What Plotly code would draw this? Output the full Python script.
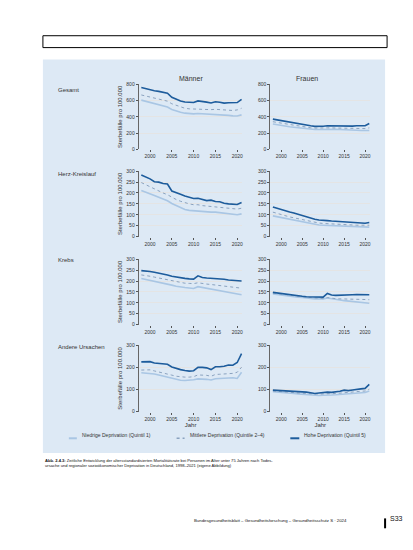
import plotly.graph_objects as go
from plotly.subplots import make_subplots

W, H = 413, 550

years = list(range(1998, 2022))

rows = ["Gesamt", "Herz-Kreislauf", "Krebs", "Andere Ursachen"]
cols = ["Männer", "Frauen"]
series_names = ["Niedrige Deprivation (Quintil 1)",
                "Mittlere Deprivation (Quintile 2–4)",
                "Hohe Deprivation (Quintil 5)"]

# Gesamt
gesamt_m_niedrig = [605, 590, 575, 560, 548, 535, 520, 490, 470, 455, 445, 440, 436, 440, 438, 434, 428, 430, 425, 420, 418, 412, 410, 424]
gesamt_m_mittel = [668, 655, 640, 628, 618, 605, 592, 560, 540, 520, 505, 498, 495, 500, 498, 495, 488, 492, 488, 480, 483, 478, 485, 505]
gesamt_m_hoch = [760, 745, 730, 720, 712, 700, 690, 640, 615, 595, 582, 578, 575, 595, 590, 580, 570, 585, 578, 568, 572, 570, 575, 615]
gesamt_f_niedrig = [312, 302, 293, 285, 278, 272, 265, 258, 252, 248, 245, 245, 247, 250, 248, 246, 244, 244, 242, 238, 236, 232, 228, 232]
gesamt_f_mittel = [340, 330, 320, 312, 305, 298, 290, 280, 272, 266, 262, 260, 262, 265, 264, 262, 260, 262, 260, 258, 258, 255, 256, 265]
gesamt_f_hoch = [372, 362, 352, 343, 335, 328, 320, 305, 298, 290, 283, 282, 285, 290, 288, 286, 285, 290, 288, 286, 290, 287, 290, 318]

# Herz-Kreislauf
hk_m_niedrig = [212, 205, 196, 188, 180, 172, 164, 152, 142, 132, 124, 120, 118, 118, 115, 113, 112, 112, 110, 107, 105, 102, 100, 104]
hk_m_mittel = [248, 238, 228, 218, 210, 200, 192, 180, 170, 162, 155, 150, 146, 146, 142, 140, 138, 138, 135, 132, 130, 127, 126, 130]
hk_m_hoch = [283, 275, 265, 252, 250, 244, 241, 209, 200, 194, 186, 180, 175, 176, 170, 165, 167, 161, 160, 153, 150, 148, 147, 156]
hk_f_niedrig = [95, 91, 86, 82, 78, 74, 70, 67, 62, 58, 55, 53, 52, 51, 50, 49, 48, 47, 46, 45, 44, 43, 42, 43]
hk_f_mittel = [112, 106, 100, 94, 90, 86, 82, 78, 72, 68, 65, 62, 60, 60, 58, 57, 56, 56, 54, 53, 52, 51, 50, 52]
hk_f_hoch = [136, 130, 122, 116, 113, 108, 102, 96, 90, 84, 79, 76, 73, 73, 71, 70, 70, 69, 68, 66, 65, 63, 61, 64]

# Krebs
krebs_m_niedrig = [212, 208, 204, 200, 196, 191, 186, 181, 176, 172, 170, 168, 166, 174, 170, 167, 164, 160, 156, 152, 148, 144, 140, 137]
krebs_m_mittel = [228, 226, 222, 218, 214, 210, 206, 203, 198, 193, 190, 189, 188, 192, 188, 186, 184, 182, 180, 177, 174, 172, 170, 167]
krebs_m_hoch = [248, 247, 244, 240, 237, 233, 228, 222, 218, 214, 212, 210, 209, 224, 216, 214, 213, 213, 212, 208, 205, 203, 200, 200]
krebs_f_niedrig = [141, 138, 135, 132, 130, 128, 126, 124, 121, 119, 118, 118, 118, 122, 118, 115, 113, 110, 108, 106, 104, 102, 100, 98]
krebs_f_mittel = [145, 142, 139, 136, 134, 132, 130, 128, 126, 124, 122, 121, 119, 124, 120, 119, 118, 118, 117, 117, 116, 116, 115, 114]
krebs_f_hoch = [148, 145, 142, 139, 136, 134, 132, 130, 128, 127, 126, 127, 126, 143, 136, 134, 134, 135, 136, 137, 138, 138, 139, 137]

# Andere Ursachen
andere_m_niedrig = [176, 175, 174, 170, 166, 161, 156, 150, 146, 142, 141, 141, 144, 148, 148, 146, 143, 149, 150, 151, 153, 153, 150, 178]
andere_m_mittel = [188, 188, 189, 184, 180, 176, 172, 165, 160, 157, 156, 156, 158, 166, 166, 164, 160, 168, 169, 170, 173, 173, 178, 201]
andere_m_hoch = [225, 224, 226, 220, 217, 216, 214, 202, 195, 190, 186, 183, 185, 200, 200, 198, 190, 203, 203, 205, 211, 210, 222, 262]
andere_f_niedrig = [90, 89, 88, 86, 84, 82, 80, 78, 76, 74, 72, 73, 74, 76, 75, 76, 77, 80, 79, 81, 84, 85, 86, 93]
andere_f_mittel = [93, 92, 92, 90, 88, 86, 84, 83, 81, 79, 78, 79, 80, 82, 81, 82, 84, 87, 86, 88, 91, 92, 93, 102]
andere_f_hoch = [97, 96, 96, 94, 92, 91, 90, 90, 88, 85, 82, 84, 87, 88, 87, 89, 92, 97, 95, 98, 102, 103, 105, 123]

y_max = [800, 300, 300, 300]
y_step = [200, 50, 50, 100]

panels = [
    [(gesamt_m_niedrig, gesamt_m_mittel, gesamt_m_hoch), (gesamt_f_niedrig, gesamt_f_mittel, gesamt_f_hoch)],
    [(hk_m_niedrig, hk_m_mittel, hk_m_hoch), (hk_f_niedrig, hk_f_mittel, hk_f_hoch)],
    [(krebs_m_niedrig, krebs_m_mittel, krebs_m_hoch), (krebs_f_niedrig, krebs_f_mittel, krebs_f_hoch)],
    [(andere_m_niedrig, andere_m_mittel, andere_m_hoch), (andere_f_niedrig, andere_f_mittel, andere_f_hoch)],
]

colors = ["#a9c6e4", "#8aa2bf", "#1d5c9c"]
dashes = ["solid", "dot", "solid"]
widths = [1.6, 1.0, 1.6]

FONT = "Liberation Sans"
TXT = "#333333"

# pixel boxes of the plot areas
col_px = [(131, 235), (263, 363)]
row_px = [(74, 140), (162, 228), (251, 317), (338, 405)]

def px_x(p):
    return p / W

def px_y(p):
    return 1 - p / H

fig = make_subplots(rows=4, cols=2)

for r in range(4):
    for c in range(2):
        for s in range(3):
            fig.add_trace(go.Scatter(
                x=years, y=panels[r][c][s],
                mode="lines",
                name=series_names[s],
                line=dict(color=colors[s], width=widths[s], dash=dashes[s]),
                showlegend=False,
            ), row=r + 1, col=c + 1)
        n = r * 2 + c + 1
        xa = "xaxis" if n == 1 else f"xaxis{n}"
        ya = "yaxis" if n == 1 else f"yaxis{n}"
        fig.layout[xa].update(
            domain=[px_x(col_px[c][0]), px_x(col_px[c][1])],
            range=[1997.4, 2021.2],
            tickvals=[2000, 2005, 2010, 2015, 2020],
            ticks="outside", ticklen=2, tickcolor="#555",
            showgrid=False, showline=False, zeroline=False,
            tickfont=dict(size=5, color=TXT, family=FONT),
        )
        fig.layout[ya].update(
            domain=[px_y(row_px[r][1]), px_y(row_px[r][0])],
            range=[0, y_max[r]],
            dtick=y_step[r],
            ticks="outside", ticklen=2, tickcolor="#555",
            showline=True, linecolor="#666", linewidth=1,
            showgrid=True, gridcolor="#e4e4e4", gridwidth=0.6,
            zeroline=False,
            tickfont=dict(size=5, color=TXT, family=FONT),
        )
        if c == 0:
            fig.layout[ya].update(title=dict(text="Sterbefälle pro 100.000",
                                              font=dict(size=6, color=TXT, family=FONT),
                                              standoff=3))
        if r == 3:
            fig.layout[xa].update(title=dict(text="Jahr",
                                              font=dict(size=6, color=TXT, family=FONT),
                                              standoff=2))

# background panel and top box
fig.add_shape(type="rect", xref="paper", yref="paper",
              x0=px_x(35), x1=px_x(378), y0=px_y(447), y1=px_y(49),
              fillcolor="#dde9f5", line=dict(width=0), layer="below")
fig.add_shape(type="rect", xref="paper", yref="paper",
              x0=px_x(35), x1=px_x(380), y0=px_y(37), y1=px_y(25),
              fillcolor="white", line=dict(color="black", width=1), layer="below")

# column headers
for c, name in enumerate(cols):
    fig.add_annotation(x=px_x((col_px[c][0] + col_px[c][1]) / 2), y=px_y(63),
                       xref="paper", yref="paper", text=name, showarrow=False,
                       font=dict(size=7, color=TXT, family=FONT))

# row labels
row_label_y = [75, 160, 252, 340]
for r, name in enumerate(rows):
    fig.add_annotation(x=px_x(48), y=px_y(row_label_y[r]), xref="paper", yref="paper",
                       text=name, showarrow=False, xanchor="left",
                       font=dict(size=6, color=TXT, family=FONT))

# legend, drawn by hand to get the short line samples
legend_x = [(61, 69), (169, 177), (283, 292)]
for s in range(3):
    x0, x1 = legend_x[s]
    fig.add_shape(type="line", xref="paper", yref="paper",
                  x0=px_x(x0), x1=px_x(x1), y0=px_y(432), y1=px_y(432),
                  line=dict(color=colors[s], width=widths[s] + 0.4, dash=dashes[s]))
    fig.add_annotation(x=px_x(x1 + 3), y=px_y(434), xref="paper", yref="paper",
                       xanchor="left", showarrow=False, text=series_names[s],
                       font=dict(size=5, color=TXT, family=FONT))

# caption
fig.add_annotation(x=px_x(35), y=px_y(450), xref="paper", yref="paper",
                   xanchor="left", yanchor="top", align="left", showarrow=False,
                   text="<b>Abb. 2.4.3:</b> Zeitliche Entwicklung der altersstandardisierten Mortalitätsrate bei Personen im Alter unter 75 Jahren nach Todes-<br>"
                        "ursache und regionaler sozioökonomischer Deprivation in Deutschland, 1998–2021 (eigene Abbildung)",
                   font=dict(size=4.1, color="#111", family=FONT))

# footer
fig.add_annotation(x=px_x(342), y=px_y(520), xref="paper", yref="paper",
                   xanchor="right", showarrow=False,
                   text="Bundesgesundheitsblatt – Gesundheitsforschung – Gesundheitsschutz S · 2024",
                   font=dict(size=4.3, color="#111", family=FONT))
fig.add_shape(type="line", xref="paper", yref="paper",
              x0=px_x(378), x1=px_x(378), y0=px_y(523), y1=px_y(513),
              line=dict(color="black", width=2))
fig.add_annotation(x=px_x(381), y=px_y(519), xref="paper", yref="paper",
                   xanchor="left", showarrow=False, text="S33",
                   font=dict(size=7, color="#111", family=FONT))

fig.update_layout(
    width=W, height=H,
    margin=dict(l=0, r=0, t=0, b=0),
    paper_bgcolor="white",
    plot_bgcolor="white",
    showlegend=False,
)

fig.write_html("out.html")
